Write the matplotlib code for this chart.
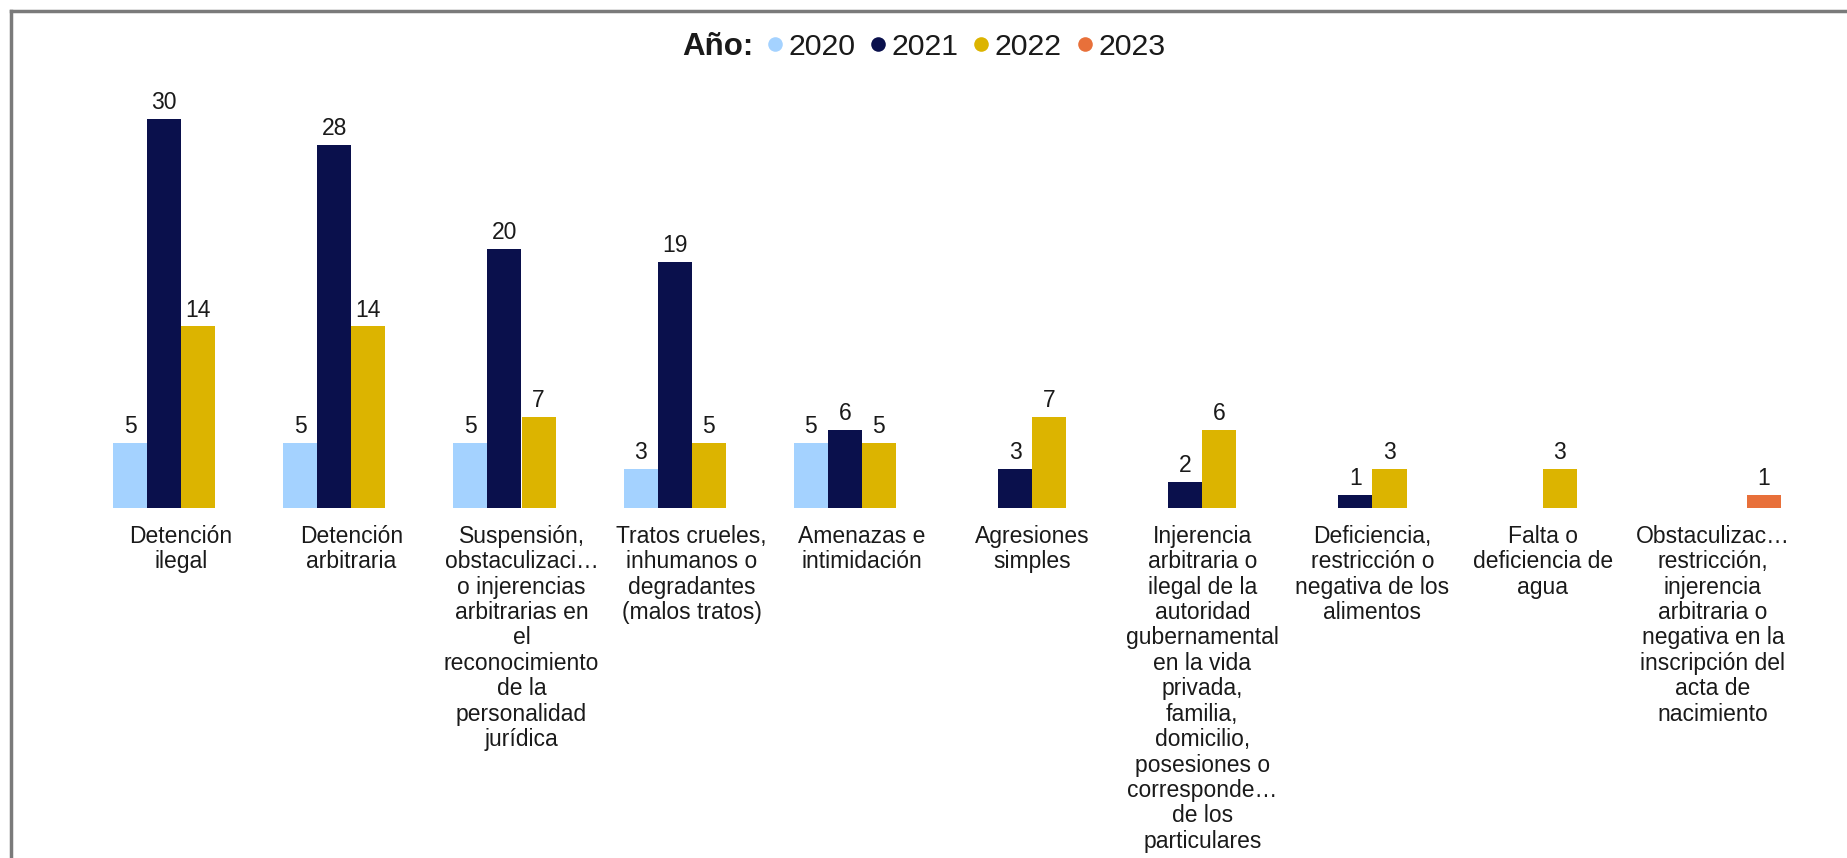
import matplotlib
matplotlib.use("Agg")
import matplotlib.pyplot as plt
import numpy as np
from matplotlib.lines import Line2D

W, H = 1847, 858
plt.rcParams['font.family'] = ['Liberation Sans', 'DejaVu Sans']

categories = [
    "Detención\nilegal",
    "Detención\narbitraria",
    "Suspensión,\nobstaculizaci…\no injerencias\narbitrarias en\nel\nreconocimiento\nde la\npersonalidad\njurídica",
    "Tratos crueles,\ninhumanos o\ndegradantes\n(malos tratos)",
    "Amenazas e\nintimidación",
    "Agresiones\nsimples",
    "Injerencia\narbitraria o\nilegal de la\nautoridad\ngubernamental\nen la vida\nprivada,\nfamilia,\ndomicilio,\nposesiones o\ncorresponde…\nde los\nparticulares",
    "Deficiencia,\nrestricción o\nnegativa de los\nalimentos",
    "Falta o\ndeficiencia de\nagua",
    "Obstaculizac…\nrestricción,\ninjerencia\narbitraria o\nnegativa en la\ninscripción del\nacta de\nnacimiento",
]
years = ["2020", "2021", "2022", "2023"]
v2020 = [5, 5, 5, 3, 5, 0, 0, 0, 0, 0]
v2021 = [30, 28, 20, 19, 6, 3, 2, 1, 0, 0]
v2022 = [14, 14, 7, 5, 5, 7, 6, 3, 3, 0]
v2023 = [0, 0, 0, 0, 0, 0, 0, 0, 0, 1]
series = [v2020, v2021, v2022, v2023]
colors = ["#a4d2ff", "#0a104c", "#dcb400", "#e8703a"]

fig = plt.figure(figsize=(W / 100, H / 100), dpi=100)
ax = fig.add_axes([96 / W, (H - 508) / H, (1798 - 96) / W, 389 / H])

x = np.arange(len(categories))
bw = 0.2
for i, (vals, col) in enumerate(zip(series, colors)):
    offs = (i - 1.5) * bw
    vals = np.array(vals, dtype=float)
    mask = vals > 0
    bars = ax.bar(x[mask] + offs, vals[mask], width=bw, color=col, linewidth=0)
    ax.bar_label(bars, labels=[str(int(v)) for v in vals[mask]], padding=3.5,
                 fontsize=16.5, color="#1a1a1a")

ax.set_xlim(-0.5, len(categories) - 0.5)
ax.set_ylim(0, 30)
ax.set_xticks(x)
ax.set_xticklabels(categories, fontsize=16.5, color="#1a1a1a", linespacing=1.135)
ax.tick_params(axis='x', length=0, pad=12)
ax.set_yticks([])
for s in ax.spines.values():
    s.set_visible(False)

# legend
ly = 1 - 47 / H
fig.text(682 / W, ly, "Año:", fontsize=22.5, fontweight='bold', va='center', ha='left',
         color="#1a1a1a")
handles = [Line2D([], [], marker='o', linestyle='', markersize=10.5, markerfacecolor=c,
                  markeredgewidth=0) for c in colors]
fig.legend(handles, years, ncol=4, loc='center left', bbox_to_anchor=(767 / W, ly),
           frameon=False, fontsize=21.8, handlelength=0.5, handletextpad=0.2,
           columnspacing=0.5, borderpad=0, borderaxespad=0, labelcolor="#1a1a1a")

# outer frame
fig.add_artist(Line2D([10.5 / W, 10.5 / W], [0, 1 - 10.5 / H], color="#7a7a7a", linewidth=2.5,
                      transform=fig.transFigure))
fig.add_artist(Line2D([10.5 / W, 1], [1 - 10.5 / H, 1 - 10.5 / H], color="#7a7a7a", linewidth=2.5,
                      transform=fig.transFigure))

fig.savefig("out.png", dpi=100)
